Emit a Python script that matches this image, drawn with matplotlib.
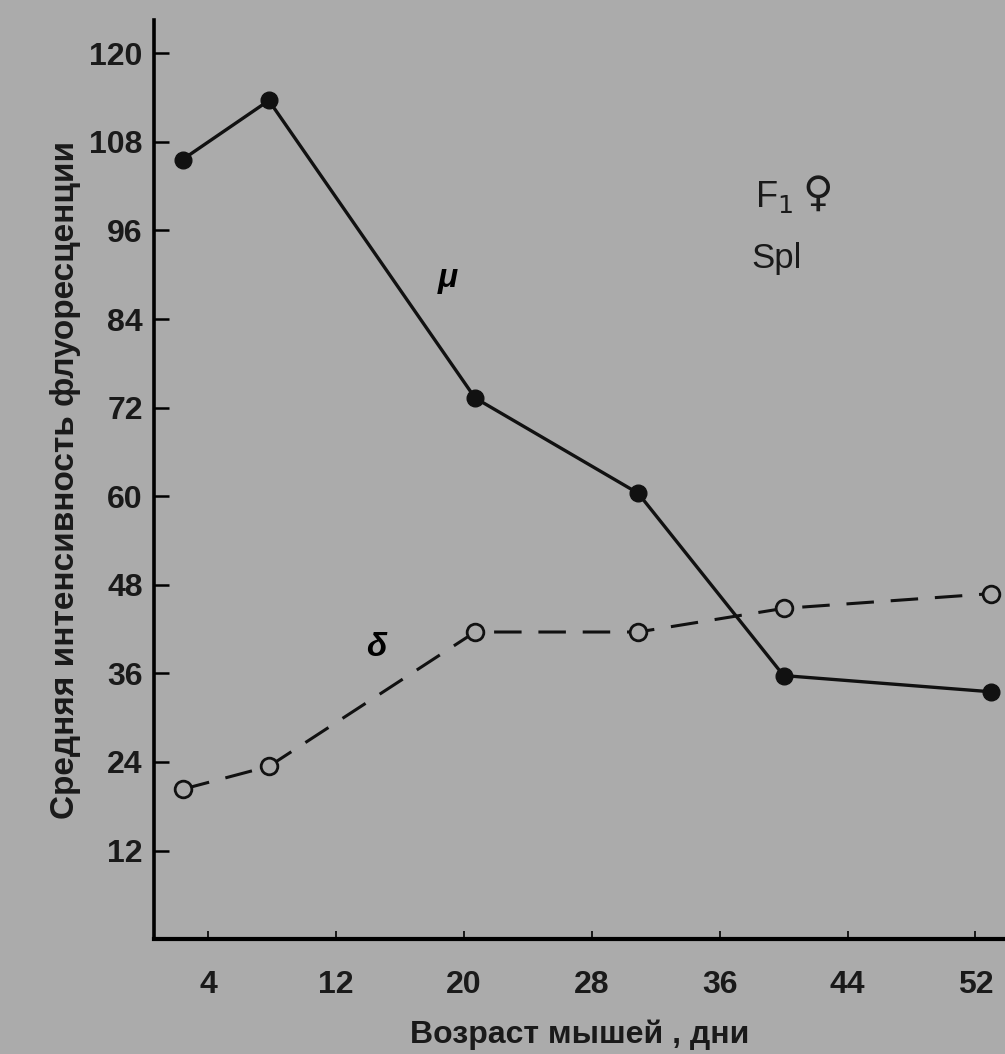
import numpy as np
import matplotlib.pyplot as plt

plt.rcParams['font.family'] = ['Liberation Sans', 'DejaVu Sans']

# Возраст мышей (дни) и средняя интенсивность флуоресценции
age = [2.4, 7.8, 20.7, 30.9, 40.0, 53.0]
mu = [105.6, 113.6, 73.3, 60.4, 35.7, 33.5]
delta = [20.3, 23.4, 41.6, 41.6, 44.8, 46.8]

x_ticks = [4, 12, 20, 28, 36, 44, 52]
y_ticks = [12, 24, 36, 48, 60, 72, 84, 96, 108, 120]

bg = '#ababab'

fig = plt.figure(figsize=(10.05, 10.54), dpi=100, facecolor=bg)
ax = fig.add_axes([0.153, 0.109, 0.847, 0.872], facecolor=bg)

# Кривая mu (сплошная, закрашенные точки)
ax.plot(age, mu, '-', color='#111111', lw=2.4, marker='o', ms=12,
        mfc='#111111', mec='#111111', clip_on=False, zorder=3)

# Кривая delta (пунктир, пустые точки)
ax.plot(age, delta, color='#111111', lw=2.2, dashes=(9, 5.5), marker='o', ms=12,
        mfc=bg, mec='#111111', mew=2.0, clip_on=False, zorder=3)

ax.set_xlim(0.6, 53.85)
ax.set_ylim(0, 124.5)
ax.set_xticks(x_ticks)
ax.set_yticks(y_ticks)

ax.spines['top'].set_visible(False)
ax.spines['right'].set_visible(False)
ax.spines['left'].set_linewidth(2.6)
ax.spines['bottom'].set_linewidth(3.0)

ax.tick_params(axis='y', direction='in', length=11, width=1.8, pad=8,
               labelsize=23)
ax.tick_params(axis='x', direction='in', length=6, width=1.2, pad=22,
               labelsize=23)
for lab in ax.get_xticklabels() + ax.get_yticklabels():
    lab.set_fontweight('bold')
    lab.set_color('#1a1a1a')

ax.set_ylabel('Средняя интенсивность флуоресценции', fontsize=24,
              fontweight='bold', color='#1a1a1a', labelpad=6)
ax.set_xlabel('Возраст мышей , дни', fontsize=23, fontweight='bold',
              color='#1a1a1a', labelpad=14)

# Подписи кривых
ax.text(19.0, 89.5, 'μ', fontsize=24, fontstyle='italic', fontweight='bold',
        ha='center', va='center')
ax.text(14.5, 39.5, 'δ', fontsize=24, fontstyle='italic', fontweight='bold',
        ha='center', va='center')
ax.text(38.2, 100.5, 'F$_1$', fontsize=26, ha='left', va='center',
        color='#1a1a1a')
ax.text(41.2, 101.0, '♀', fontsize=30, ha='left', va='center',
        color='#1a1a1a', family=['DejaVu Sans'])
ax.text(38.0, 92.2, 'Spl', fontsize=25, ha='left', va='center',
        color='#1a1a1a')

plt.savefig('out.png', dpi=100, facecolor=bg)
